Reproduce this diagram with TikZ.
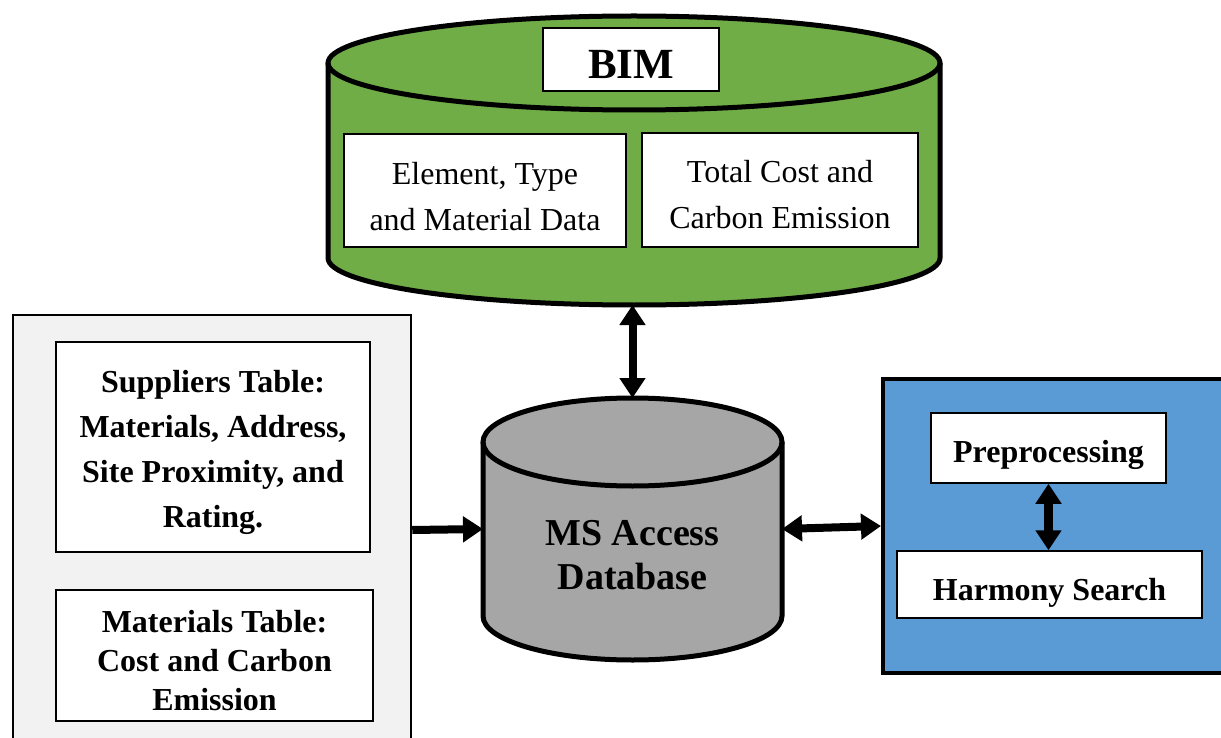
\documentclass[tikz,border=0pt]{standalone}
\usepackage{fontspec}
\setmainfont{Liberation Serif}
\usetikzlibrary{arrows.meta}
\definecolor{bimgreen}{HTML}{70AD47}
\definecolor{dbgrey}{HTML}{A6A6A6}
\definecolor{panelgrey}{HTML}{F2F2F2}
\definecolor{panelblue}{HTML}{5B9BD5}
\newcommand\szReg{\fontsize{32pt}{46pt}\selectfont}
\newcommand\szSup{\fontsize{32pt}{45pt}\selectfont\bfseries}
\newcommand\szMat{\fontsize{32pt}{39pt}\selectfont\bfseries}
\newcommand\szBig{\fontsize{38pt}{44pt}\selectfont\bfseries}
\newcommand\szBIM{\fontsize{43pt}{46pt}\selectfont\bfseries}
\begin{document}
\begin{tikzpicture}[x=1pt,y=-1pt,
  box/.style={draw=black, fill=white, line width=2pt, inner sep=0pt},
  txt/.style={align=center, inner sep=0pt},
  hidden/.style={inner sep=0pt, outer sep=0pt},
  tip/.tip={Triangle[width=25pt,length=20pt]},
  conn/.style={line width=8pt, -tip},
  conntwo/.style={line width=8pt, tip-tip},
  cyl/.style={draw=black, line width=5pt}]
\useasboundingbox (0,0) rectangle (1221,738);
\begin{scope}
\clip (0,0) rectangle (1221,738);
% left panel
\node[draw=black, fill=panelgrey, line width=2.5pt, minimum width=398pt, minimum height=430pt, inner sep=0pt] (lp) at (212,530) {};
\node[box, minimum width=314pt, minimum height=210pt] (sup) at (213,447) {};
\node[txt, font=\szSup] (suptxt) at ([yshift=-5pt]sup.center)
  {Suppliers Table:\\Materials, Address,\\Site Proximity, and\\Rating.};
\node[box, minimum width=317pt, minimum height=131pt] (mat) at (214.5,655.5) {};
\node[txt, font=\szMat] (mattxt) at ([yshift=-5pt]mat.center)
  {Materials Table:\\Cost and Carbon\\Emission};
% right panel
\node[draw=black, fill=panelblue, line width=4pt, minimum width=357pt, minimum height=294pt, inner sep=0pt] (rp) at (1061.5,526) {};
\node[box, line width=1.5pt, minimum width=235pt, minimum height=70pt] (pre) at (1048.5,448) {};
\node[txt, font=\szSup] (pretxt) at ([yshift=-7pt]pre.center) {Preprocessing};
\node[box, line width=1.5pt, minimum width=305pt, minimum height=67pt] (hs) at (1049.5,584.5) {};
\node[txt, font=\szSup] (hstxt) at ([yshift=-8pt]hs.center) {Harmony Search};
\end{scope}
% BIM cylinder
\fill[bimgreen] (328,63) -- (328,258) arc[start angle=180, end angle=360, x radius=306pt, y radius=47pt]
  -- (940,63) arc[start angle=0, end angle=180, x radius=306pt, y radius=47pt] -- cycle;
\draw[cyl] (328,63) -- (328,258) arc[start angle=180, end angle=360, x radius=306pt, y radius=47pt] -- (940,63);
\draw[cyl] (634,63) ellipse[x radius=306pt, y radius=47pt];
\node[hidden, minimum width=612pt, minimum height=290pt] (bim) at (634,160) {};
\node[box, minimum width=176pt, minimum height=63pt] (bimlabel) at (631,59.5) {};
\node[txt, font=\szBIM] (bimtxt) at ([yshift=-5pt]bimlabel.center) {BIM};
\node[box, minimum width=282pt, minimum height=113pt] (elem) at (485,190.5) {};
\node[txt, font=\szReg] (elemtxt) at ([yshift=-6pt]elem.center) {Element, Type\\and Material Data};
\node[box, minimum width=276pt, minimum height=114pt] (tcost) at (780,190) {};
\node[txt, font=\szReg] (tcosttxt) at ([yshift=-5pt]tcost.center) {Total Cost and\\Carbon Emission};
% MS Access cylinder
\fill[dbgrey] (483,442) -- (483,616) arc[start angle=180, end angle=360, x radius=149.5pt, y radius=44pt]
  -- (782,442) arc[start angle=0, end angle=180, x radius=149.5pt, y radius=44pt] -- cycle;
\draw[cyl] (483,442) -- (483,616) arc[start angle=180, end angle=360, x radius=149.5pt, y radius=44pt] -- (782,442);
\draw[cyl] (632.5,442) ellipse[x radius=149.5pt, y radius=44pt];
\node[hidden, minimum width=299pt, minimum height=262pt] (ms) at (632.5,529) {};
\node[txt, font=\szBig] (mslabel) at (632.5,555) {MS Access\\Database};
% connectors
\draw[conntwo] (bim.south -| ms.north) -- (ms.north);
\draw[conn] (lp.east) -- (ms.west);
\draw[conntwo] (ms.east) -- (rp.west);
\draw[line width=9pt, tip-tip] (pre.south) -- (hs.north -| pre.south);
\end{tikzpicture}
\end{document}
